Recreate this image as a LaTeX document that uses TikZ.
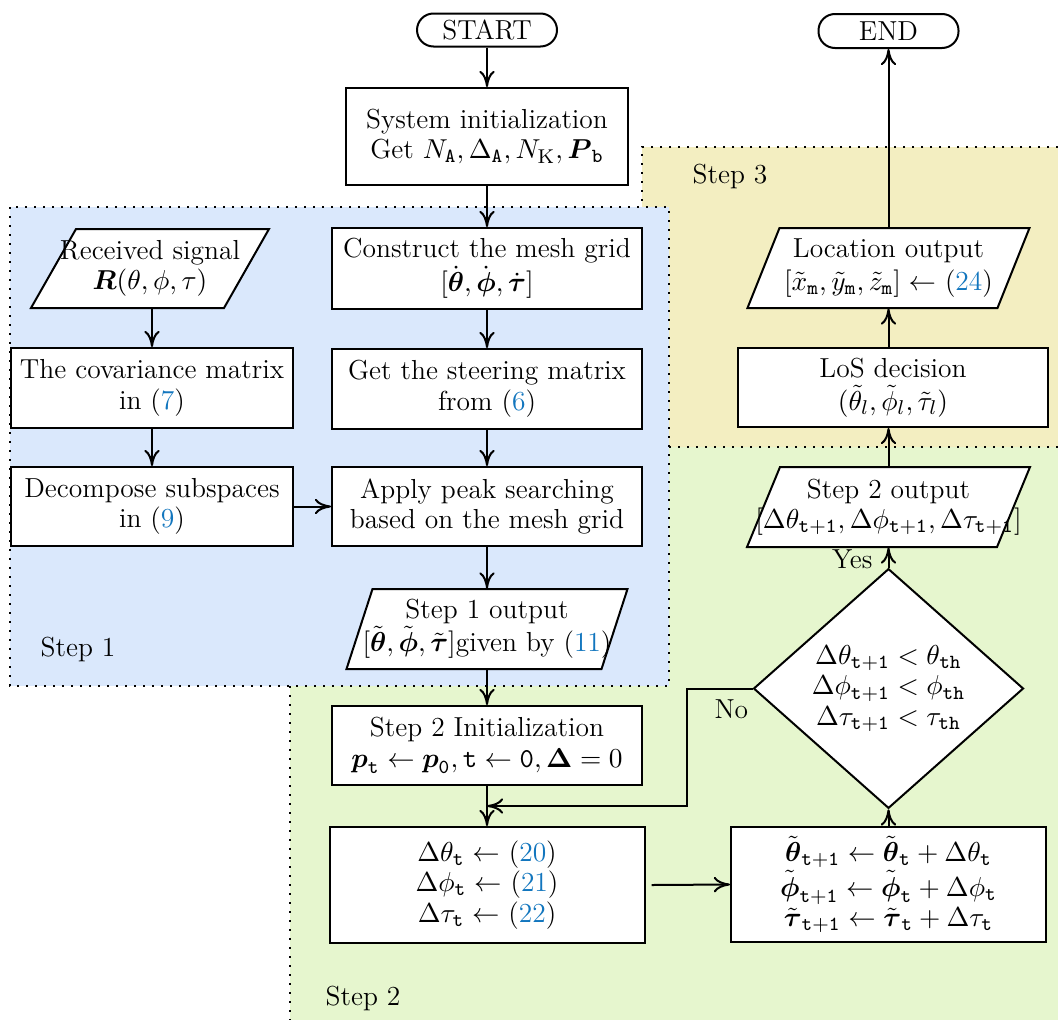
\documentclass[tikz,border=0pt]{standalone}
\usepackage{amsmath,amssymb}
\usetikzlibrary{shapes.geometric,arrows.meta,calc}
\definecolor{bluebg}{RGB}{218,232,252}
\definecolor{yellowbg}{RGB}{243,238,193}
\definecolor{greenbg}{RGB}{230,246,206}
\definecolor{linkc}{RGB}{18,118,190}
\newcommand\eqr[1]{(\textcolor{linkc}{#1})}
\newcommand\fs{\fontsize{11}{12.2}\selectfont}
\newcommand\ioshape[7]{%
  \draw[ioline] ({#2-#4/2+#6/2},{#3-#5/2}) -- ++(#4,0) -- ++({-#6},#5) -- ++({-#4},0) -- cycle;
  \node[iotext,sz={#4}{#5}] (#1) at (#2,#3) {#7};}
\begin{document}
\begin{tikzpicture}[x=0.4pt,y=-0.4pt,
  box/.style={draw,thick,fill=white,align=center,inner sep=0pt,font=\fs},
  sz/.style 2 args={minimum width={#1*0.4pt},minimum height={#2*0.4pt}},
  iotext/.style={align=center,inner sep=0pt,font=\fs},
  ioline/.style={draw,thick,fill=white},
  term/.style={draw,thick,fill=white,rounded corners=6.6pt,align=center,inner sep=0pt,font=\fs},
  dia/.style={draw,thick,fill=white,shape=diamond,align=center,inner sep=0pt,font=\fs},
  conn/.style={thick,-{To[length=6.5pt,width=6.2pt]}},
  dots/.style={line width=0.8pt,dash pattern=on 0.8pt off 2.8pt},
  lbl/.style={inner sep=0pt,font=\fs}]
\useasboundingbox (0,0) rectangle (1058,1020);
% regions
\fill[greenbg] (290,447) rectangle (1058,1020);
\fill[yellowbg] (642,147) rectangle (1058,447);
\draw[dots] (1058,147) -- (642,147) -- (642,447);
\draw[dots] (669,447) -- (1058,447);
\draw[dots] (290,686) -- (290,1020);
\fill[bluebg] (10,207) rectangle (669,686);
\draw[dots] (10,207) rectangle (669,686);
\node[lbl] (s1) at (78,649) {Step 1};
\node[lbl] (s2) at (363,998) {Step 2};
\node[lbl] (s3) at (730,176) {Step 3};
% nodes
\node[term,sz={140}{33}] (start) at (487,30) {START};
\node[term,sz={140}{34}] (end) at (888.5,31) {END};
\node[box,sz={282}{97}] (init) at (487,136.5) {System initialization\\ Get $N_{\mathtt{A}}, \Delta_{\mathtt{A}}, N_{\mathrm{K}}, \boldsymbol{P}_{\mathtt{b}}$};
\ioshape{recv}{150}{268.5}{193}{79}{45}{Received signal\\ $\boldsymbol{R}(\theta,\phi,\tau)$}
\node[box,sz={282}{80}] (cov) at (152,388) {The covariance matrix\\ in \eqr{7}};
\node[box,sz={282}{79}] (dec) at (152,506.5) {Decompose subspaces\\ in \eqr{9}};
\node[box,sz={310}{81}] (mesh) at (487,268.5) {Construct the mesh grid\\ $[\dot{\boldsymbol{\theta}},\dot{\boldsymbol{\phi}},\dot{\boldsymbol{\tau}}]$};
\node[box,sz={310}{80}] (steer) at (487,389) {Get the steering matrix\\ from \eqr{6}};
\node[box,sz={310}{79}] (peak) at (487,506.5) {Apply peak searching\\ based on the mesh grid};
\ioshape{out1}{487}{629}{255}{80}{26}{Step 1 output\\ $[\tilde{\boldsymbol{\theta}},\tilde{\boldsymbol{\phi}},\tilde{\boldsymbol{\tau}}]$given by \eqr{11}}
\node[box,sz={310}{79}] (init2) at (487,745.5) {Step 2 Initialization\\ $\boldsymbol{p}_{\mathtt{t}} \leftarrow \boldsymbol{p}_{\mathtt{0}}, \mathtt{t} \leftarrow \mathtt{0}, \boldsymbol{\Delta} = 0$};
\node[box,sz={315}{116}] (delta) at (487,885) {$\Delta\theta_{\mathtt{t}} \leftarrow$ \eqr{20}\\ $\Delta\phi_{\mathtt{t}} \leftarrow$ \eqr{21}\\ $\Delta\tau_{\mathtt{t}} \leftarrow$ \eqr{22}};
\node[box,sz={315}{115}] (update) at (888.5,884.5) {$\tilde{\boldsymbol{\theta}}_{\mathtt{t}+\mathtt{1}} \leftarrow \tilde{\boldsymbol{\theta}}_{\mathtt{t}} + \Delta\theta_{\mathtt{t}}$\\ $\tilde{\boldsymbol{\phi}}_{\mathtt{t}+\mathtt{1}} \leftarrow \tilde{\boldsymbol{\phi}}_{\mathtt{t}} + \Delta\phi_{\mathtt{t}}$\\ $\tilde{\boldsymbol{\tau}}_{\mathtt{t}+\mathtt{1}} \leftarrow \tilde{\boldsymbol{\tau}}_{\mathtt{t}} + \Delta\tau_{\mathtt{t}}$};
\node[dia,sz={270}{214}] (cond) at (888.5,688.5) {$\Delta\theta_{\mathtt{t}+\mathtt{1}} < \theta_{\mathtt{th}}$\\ $\Delta\phi_{\mathtt{t}+\mathtt{1}} < \phi_{\mathtt{th}}$\\ $\Delta\tau_{\mathtt{t}+\mathtt{1}} < \tau_{\mathtt{th}}$};
\ioshape{out2}{888.5}{507}{250}{80}{33}{Step 2 output\\ $[\Delta\theta_{\mathtt{t}+\mathtt{1}},\Delta\phi_{\mathtt{t}+\mathtt{1}},\Delta\tau_{\mathtt{t}+\mathtt{1}}]$}
\node[box,sz={310}{79}] (los) at (893,387.5) {LoS decision\\[1pt] $(\tilde{\theta}_l,\tilde{\phi}_l,\tilde{\tau}_l)$};
\ioshape{loc}{888.5}{268}{250}{80}{32}{Location output\\[1pt] $[\tilde{x}_{\mathtt{m}},\tilde{y}_{\mathtt{m}},\tilde{z}_{\mathtt{m}}] \leftarrow$ \eqr{24}}
\coordinate (noend) at ($(init2.south)!0.5!(delta.north)$);
% connectors
\draw[conn] (start.south) -- (init.north);
\draw[conn] (init.south) -- (mesh.north);
\draw[conn] (mesh.south) -- (steer.north);
\draw[conn] (steer.south) -- (peak.north);
\draw[conn] (peak.south) -- (out1.north);
\draw[conn] (out1.south) -- (init2.north);
\draw[conn] (init2.south) -- (delta.north);
\draw[conn] (cov.north |- recv.south) -- (cov.north);
\draw[conn] (cov.south) -- (dec.north);
\draw[conn] (dec.east) -- (peak.west);
\draw[conn] ([xshift=2.4pt]delta.east) -- (update.west);
\draw[conn] (update.north) -- (cond.south);
\draw[conn] (cond.north) -- node[lbl,pos=0.42,left=6pt] {Yes} (out2.south);
\draw[conn] (out2.north) -- (out2.north |- los.south);
\draw[conn] (out2.north |- los.north) -- (loc.south);
\draw[conn] (loc.north) -- (end.south);
\draw[conn] (cond.west) -- node[lbl,pos=0.32,below=4pt] {No} ++(-66,0) |- (noend);
\end{tikzpicture}
\end{document}
